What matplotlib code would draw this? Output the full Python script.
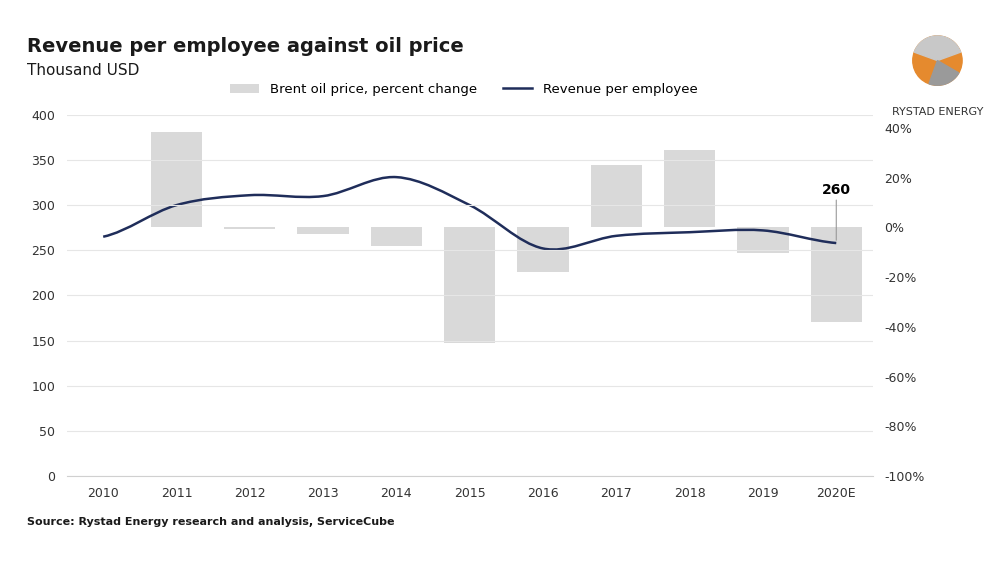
import matplotlib.pyplot as plt
from matplotlib.path import Path
from matplotlib.patches import PathPatch, Circle, Wedge
import numpy as np

years = ["2010", "2011", "2012", "2013", "2014", "2015", "2016", "2017", "2018", "2019", "2020E"]
brent_change = [None, 38.5, -0.5, -2.8, -7.7, -46.5, -18.0, 25.0, 31.0, -10.5, -38.0]
revenue = [265, 300, 311, 310, 331, 300, 252, 266, 270, 272, 258]

fig = plt.figure(figsize=(10.08, 5.77), dpi=100)
ax = fig.add_axes([0.066, 0.175, 0.80, 0.626])
ax2 = ax.twinx()

x = np.arange(len(years))
# bars on the right-hand percent axis
bx = [i for i, v in enumerate(brent_change) if v is not None]
bv = [v for v in brent_change if v is not None]
ax2.bar(bx, bv, width=0.7, color="#d9d9d9", zorder=1, label="Brent oil price, percent change")
ax2.set_ylim(-100, 45.25)
ax2.set_yticks(range(-100, 41, 20))
ax2.set_yticklabels([f"{t}%" for t in range(-100, 41, 20)])

# smooth line via bezier segments built from the data points
verts = [(x[0], revenue[0])]
codes = [Path.MOVETO]
for i in range(len(x) - 1):
    p0 = revenue[max(i - 1, 0)]
    p1 = revenue[i]
    p2 = revenue[i + 1]
    p3 = revenue[min(i + 2, len(x) - 1)]
    verts += [(x[i] + 1 / 3, p1 + (p2 - p0) / 6), (x[i + 1] - 1 / 3, p2 - (p3 - p1) / 6), (x[i + 1], p2)]
    codes += [Path.CURVE4] * 3
# line drawn on the left axis, placed above the bars
ax.set_zorder(ax2.get_zorder() + 1)
ax.patch.set_visible(False)
ax.add_patch(PathPatch(Path(verts, codes), fill=False, edgecolor="#1f2d5a", lw=1.8))
ax.plot([], [], color="#1f2d5a", lw=1.8, label="Revenue per employee")
ax.set_ylim(0, 400)
ax.set_yticks(range(0, 401, 50))
ax.set_xlim(-0.5, 10.5)
ax.set_xticks(x)
ax.set_xticklabels(years)
ax.grid(axis="y", color="#e6e6e6", lw=0.8)
ax2.set_axisbelow(True)

for a in (ax, ax2):
    for s in a.spines.values():
        s.set_visible(False)
    a.tick_params(length=0, labelsize=9, colors="#333333", pad=8)
ax.spines["bottom"].set_visible(True)
ax.spines["bottom"].set_color("#d0d0d0")

ax.annotate("260", xy=(10, revenue[-1]), xytext=(10, 312), ha="center", fontsize=10,
            fontweight="bold", arrowprops=dict(arrowstyle="-", color="#999999", lw=0.8,
                                                shrinkA=0, shrinkB=2))

h1, l1 = ax2.get_legend_handles_labels()
h2, l2 = ax.get_legend_handles_labels()
fig.legend(h1 + h2, l1 + l2, loc="center", bbox_to_anchor=(0.46, 0.845), ncol=2,
           frameon=False, fontsize=9.5, handlelength=2.2)

fig.text(0.027, 0.91, "Revenue per employee against oil price", fontsize=14, fontweight="bold", color="#1a1a1a")
fig.text(0.027, 0.87, "Thousand USD", fontsize=11, color="#1a1a1a")
fig.text(0.027, 0.09, "Source: Rystad Energy research and analysis, ServiceCube", fontsize=8,
         fontweight="bold", color="#1a1a1a")

# logo
lx = fig.add_axes([0.895, 0.85, 0.07, 0.09])
lx.set_aspect("equal")
lx.axis("off")
lx.set_xlim(-1, 1)
lx.set_ylim(-1, 1)
lx.add_patch(Circle((0, 0), 0.95, color="#e58a2e"))
lx.add_patch(Wedge((0, 0), 0.95, 20, 160, color="#c8c8c8"))
lx.add_patch(Wedge((0, 0), 0.95, 250, 330, color="#9a9a9a"))
fig.text(0.93, 0.80, "RYSTAD ENERGY", ha="center", fontsize=8, color="#333333")

fig.savefig("out.png", dpi=100)
